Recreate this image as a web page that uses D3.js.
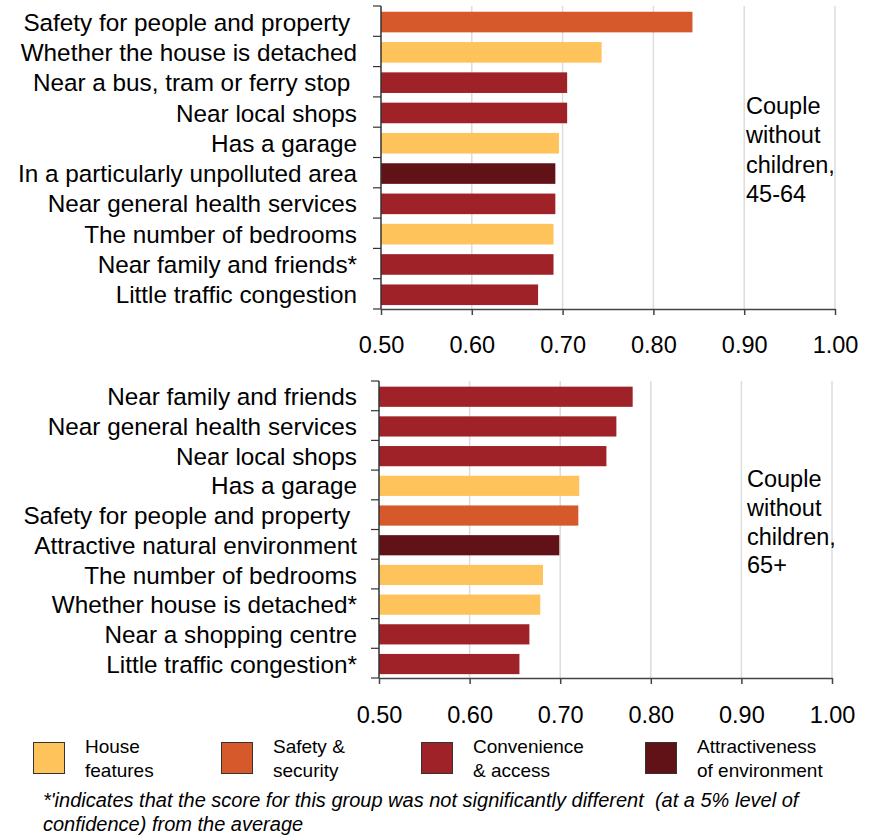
<!DOCTYPE html>
<html>
<head>
<meta charset="utf-8">
<script src="https://cdn.jsdelivr.net/npm/d3@7/dist/d3.min.js"></script>
<style>
  html, body { margin: 0; padding: 0; background: #fff; }
  svg { display: block; font-family: "Liberation Sans", Arial, sans-serif; }
</style>
</head>
<body>
<svg id="chart" width="876" height="836"></svg>
<script>
// Attribute groups
const groupNames = ["House features", "Safety & security", "Convenience & access", "Attractiveness of environment"];
const groupColors = ["#FEC35B", "#D5592A", "#9E2227", "#611217"];
const legendLines = [["House", "features"], ["Safety &", "security"], ["Convenience", "& access"], ["Attractiveness", "of environment"]];

// Couple without children, 45-64
const topCategories = [
  "Safety for people and property ",
  "Whether the house is detached",
  "Near a bus, tram or ferry stop ",
  "Near local shops",
  "Has a garage",
  "In a particularly unpolluted area",
  "Near general health services",
  "The number of bedrooms",
  "Near family and friends*",
  "Little traffic congestion"
];
const topValues = [0.843, 0.743, 0.705, 0.705, 0.696, 0.692, 0.692, 0.690, 0.690, 0.673];
const topGroups = [1, 0, 2, 2, 0, 3, 2, 0, 2, 2];
const topNote = ["Couple", "without", "children,", "45-64"];

// Couple without children, 65+
const bottomCategories = [
  "Near family and friends",
  "Near general health services",
  "Near local shops",
  "Has a garage",
  "Safety for people and property ",
  "Attractive natural environment",
  "The number of bedrooms",
  "Whether house is detached*",
  "Near a shopping centre",
  "Little traffic congestion*"
];
const bottomValues = [0.780, 0.762, 0.751, 0.721, 0.720, 0.699, 0.681, 0.678, 0.666, 0.655];
const bottomGroups = [2, 2, 2, 0, 1, 3, 0, 0, 2, 2];
const bottomNote = ["Couple", "without", "children,", "65+"];

const xTicks = [0.5, 0.6, 0.7, 0.8, 0.9, 1.0];
const footnote = [
  "*'indicates that the score for this group was not significantly different  (at a 5% level of",
  "confidence) from the average"
];

const svg = d3.select("#chart");
const FONT = 24.3;

function panel(cfg) {
  const g = svg.append("g");
  const x = d3.scaleLinear().domain([0.5, 1.0]).range([cfg.x0, cfg.x1]);
  const y = d3.scaleBand().domain(cfg.categories).range([cfg.y0, cfg.y1]).padding(0);
  const step = y.step();

  // vertical gridlines
  g.selectAll("line.grid").data(xTicks.slice(1)).join("line")
    .attr("class", "grid")
    .attr("x1", d => x(d)).attr("x2", d => x(d))
    .attr("y1", cfg.y0).attr("y2", cfg.y1)
    .attr("stroke", "#DCDCDC").attr("stroke-width", 1.5);

  // bars
  g.selectAll("rect.bar").data(cfg.categories).join("rect")
    .attr("class", "bar")
    .attr("x", x(0.5))
    .attr("y", d => y(d) + step * 0.19)
    .attr("width", (d, i) => x(cfg.values[i]) - x(0.5))
    .attr("height", step * 0.68)
    .attr("fill", (d, i) => groupColors[cfg.groups[i]]);

  // x axis
  const xAxis = d3.axisBottom(x).tickValues(xTicks).tickFormat(d3.format(".2f"))
    .tickSizeInner(6).tickSizeOuter(0).tickPadding(cfg.tickPad);
  const xa = g.append("g").attr("transform", `translate(0,${cfg.y1})`).call(xAxis);
  xa.select(".domain").attr("stroke", "#444").attr("stroke-width", 1.5);
  xa.selectAll(".tick line").attr("stroke", "#444").attr("stroke-width", 1.5);
  xa.selectAll(".tick text").attr("font-size", 23.5).attr("fill", "#000")
    .attr("font-family", "Liberation Sans, Arial, sans-serif");

  // y axis line with boundary ticks
  g.append("line").attr("x1", x(0.5)).attr("x2", x(0.5))
    .attr("y1", cfg.y0).attr("y2", cfg.y1)
    .attr("stroke", "#333").attr("stroke-width", 1.5);
  const bounds = cfg.categories.map(d => y(d)).concat([cfg.y1]);
  g.selectAll("line.ytick").data(bounds).join("line")
    .attr("class", "ytick")
    .attr("x1", x(0.5) - 8).attr("x2", x(0.5))
    .attr("y1", d => d).attr("y2", d => d)
    .attr("stroke", "#333").attr("stroke-width", 1.2);

  // category labels
  g.selectAll("text.cat").data(cfg.categories).join("text")
    .attr("class", "cat")
    .attr("x", 357)
    .attr("y", d => y(d) + step / 2 + 1)
    .attr("dy", "0.35em")
    .attr("text-anchor", "end")
    .attr("font-size", FONT)
    .attr("fill", "#000")
    .style("white-space", "pre")
    .text(d => d);

  // group note
  g.append("text")
    .attr("x", cfg.noteX)
    .attr("font-size", 23.5).attr("fill", "#000")
    .selectAll("tspan").data(cfg.note).join("tspan")
    .attr("x", cfg.noteX)
    .attr("y", (d, i) => cfg.noteY + i * cfg.noteStep)
    .text(d => d);
}

panel({
  categories: topCategories, values: topValues, groups: topGroups, note: topNote,
  x0: 381, x1: 835, y0: 6, y1: 309, tickPad: 21,
  noteX: 746, noteY: 114, noteStep: 29.3
});

panel({
  categories: bottomCategories, values: bottomValues, groups: bottomGroups, note: bottomNote,
  x0: 379, x1: 832, y0: 381, y1: 678, tickPad: 22,
  noteX: 747, noteY: 487, noteStep: 28.8
});

// legend
const legendX = [33, 221, 421, 645];
const lg = svg.append("g");
groupNames.forEach((name, i) => {
  lg.append("rect")
    .attr("x", legendX[i] + 0.5).attr("y", 742.5)
    .attr("width", 31).attr("height", 31)
    .attr("fill", groupColors[i])
    .attr("stroke", "#333").attr("stroke-width", 1);
  const t = lg.append("text").attr("font-size", 19).attr("fill", "#000");
  t.selectAll("tspan").data(legendLines[i]).join("tspan")
    .attr("x", legendX[i] + 52)
    .attr("y", (d, j) => 753 + j * 24)
    .text(d => d);
});

// footnote
svg.append("text")
  .attr("font-size", 20).attr("font-style", "italic").attr("fill", "#000")
  .style("white-space", "pre")
  .selectAll("tspan").data(footnote).join("tspan")
  .attr("x", 43)
  .attr("y", (d, i) => 807 + i * 24)
  .text(d => d);
</script>
</body>
</html>
